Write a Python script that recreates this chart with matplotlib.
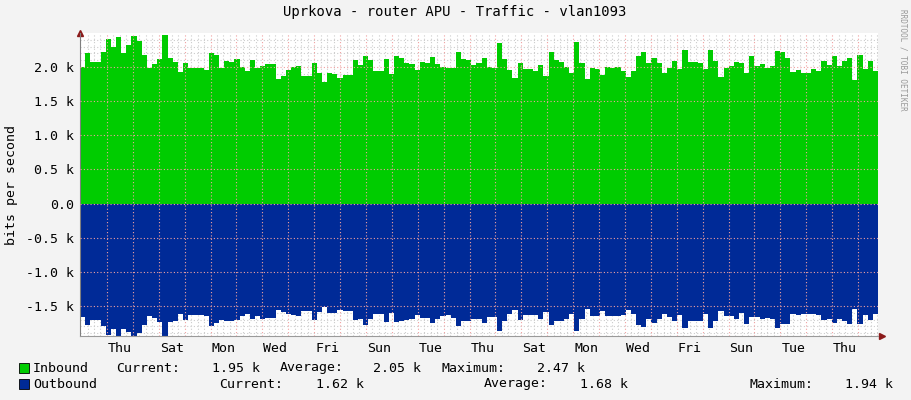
import matplotlib
matplotlib.use("Agg")
import matplotlib.pyplot as plt
import numpy as np

# values in k bits/s, one per step (~4.8 h)
inbound = [2.0, 2.20, 2.08, 2.07, 2.22, 2.41, 2.29, 2.44, 2.21, 2.32,
           2.46, 2.38, 2.18, 1.99, 2.05, 2.12, 2.47, 2.13, 2.08, 1.93,
           2.06, 1.99, 1.99, 1.98, 1.96, 2.21, 2.18, 1.98, 2.09, 2.08,
           2.12, 2.0, 1.95, 2.10, 1.98, 2.01, 2.04, 2.04, 1.82, 1.87,
           1.96, 2.0, 2.01, 1.87, 1.87, 2.06, 1.91, 1.78, 1.91, 1.90,
           1.84, 1.88, 1.88, 2.10, 2.03, 2.16, 2.10, 1.95, 1.95, 2.12,
           1.90, 2.16, 2.13, 2.06, 2.05, 1.96, 2.08, 2.06, 2.15, 2.04,
           2.0, 1.98, 1.99, 2.22, 2.12, 2.10, 2.03,
           2.06, 2.13, 2.0, 1.99, 2.35, 2.12, 1.96, 1.84, 2.06, 1.97,
           1.97, 1.95, 2.03, 1.87, 2.22, 2.10, 2.08, 2.0, 1.91, 2.37,
           2.06, 1.82, 1.99, 1.97, 1.88, 2.0, 1.99, 2.0, 1.95, 1.85,
           1.95, 2.16, 2.22, 2.06, 2.13, 2.06, 1.91, 1.99, 2.09, 1.97,
           2.25, 2.07, 2.07, 2.06, 1.97, 2.25, 2.09, 1.85, 1.99, 2.01,
           2.07, 2.06, 1.91, 2.16, 2.01, 2.04, 1.99, 2.01, 2.24, 2.22,
           2.13, 1.93, 1.96, 1.91, 1.91, 1.97, 1.94, 2.09, 2.03, 2.16,
           2.01, 2.09, 2.13, 1.81, 2.18, 1.97, 2.09, 1.94]
outbound = [1.66, 1.78, 1.70, 1.71, 1.79, 1.93, 1.84, 1.94, 1.84, 1.88,
            1.94, 1.90, 1.78, 1.65, 1.68, 1.74, 1.95, 1.74, 1.72, 1.62,
            1.71, 1.63, 1.63, 1.63, 1.65, 1.79, 1.75, 1.71, 1.72, 1.72,
            1.71, 1.65, 1.62, 1.69, 1.65, 1.69, 1.68, 1.68, 1.56, 1.59,
            1.62, 1.63, 1.65, 1.57, 1.57, 1.71, 1.59, 1.51, 1.60, 1.60,
            1.56, 1.57, 1.57, 1.71, 1.69, 1.78, 1.69, 1.62, 1.62, 1.74,
            1.60, 1.74, 1.72, 1.71, 1.69, 1.63, 1.68, 1.68, 1.75, 1.69,
            1.65, 1.63, 1.68, 1.79, 1.72, 1.72, 1.69,
            1.69, 1.75, 1.66, 1.66, 1.87, 1.72, 1.62, 1.56, 1.71, 1.63,
            1.63, 1.63, 1.69, 1.59, 1.78, 1.72, 1.72, 1.69, 1.62, 1.87,
            1.69, 1.54, 1.65, 1.65, 1.57, 1.65, 1.65, 1.65, 1.63, 1.56,
            1.62, 1.78, 1.81, 1.69, 1.75, 1.69, 1.62, 1.66, 1.72, 1.63,
            1.82, 1.72, 1.72, 1.72, 1.62, 1.82, 1.72, 1.57, 1.65, 1.65,
            1.69, 1.60, 1.76, 1.66, 1.66, 1.69, 1.68, 1.69, 1.82, 1.76,
            1.76, 1.62, 1.63, 1.62, 1.62, 1.62, 1.63, 1.71, 1.69, 1.75,
            1.69, 1.72, 1.76, 1.54, 1.76, 1.63, 1.71, 1.62]
day_labels = ["Thu", "Sat", "Mon", "Wed", "Fri", "Sun", "Tue", "Thu",
              "Sat", "Mon", "Wed", "Fri", "Sun", "Tue", "Thu"]
ytick_vals = [-1.5, -1.0, -0.5, 0.0, 0.5, 1.0, 1.5, 2.0]
ytick_text = ["-1.5 k", "-1.0 k", "-0.5 k", "0.0", "0.5 k", "1.0 k", "1.5 k", "2.0 k"]

W, H = 911, 400
mono = "DejaVu Sans Mono"
fig = plt.figure(figsize=(W / 100, H / 100), dpi=100, facecolor="#f3f3f3")
ax = fig.add_axes([80 / W, (H - 336) / H, (878 - 80) / W, (336 - 33) / H])
ax.set_facecolor("white")

n = len(inbound)
span = 30.81  # days shown
step = span / n
x = -1.04 + np.arange(n + 1) * step
inb = np.append(inbound, inbound[-1])
outb = -np.append(outbound, outbound[-1])
ax.fill_between(x, 0, inb, step="post", color="#00cc00", lw=0, zorder=2)
ax.fill_between(x, 0, outb, step="post", color="#002a97", lw=0, zorder=2)

ax.set_xlim(x[0], x[-1])
ax.set_ylim(-1.94, 2.50)

# grid: grey every 6 h / 0.1 k, red every day / 0.5 k
for d in np.arange(-1.0, 30.0, 0.25):
    if abs(d - round(d)) > 1e-6:
        ax.axvline(d, color="#cccccc", lw=0.8, ls=(0, (1, 2)), zorder=1)
for d in range(0, 30):
    ax.axvline(d, color="#f0a0a0", lw=0.8, ls=(0, (1, 2)), zorder=3)
for v in np.arange(-1.9, 2.5, 0.1):
    if abs(v * 2 - round(v * 2)) > 1e-6:
        ax.axhline(v, color="#cccccc", lw=0.8, ls=(0, (1, 2)), zorder=1)
for v in ytick_vals:
    ax.axhline(v, color="#f0a0a0", lw=0.8, ls=(0, (1, 2)), zorder=3)

ax.set_xticks([k * 2 + 0.5 for k in range(len(day_labels))])
ax.set_xticklabels(day_labels, fontfamily=mono, fontsize=9.5)
ax.set_yticks(ytick_vals)
ax.set_yticklabels(ytick_text, fontfamily=mono, fontsize=9.5)
ax.tick_params(length=0, pad=4)
for s in ["top", "right"]:
    ax.spines[s].set_visible(False)
ax.spines["left"].set_color("#7f7f7f")
ax.spines["bottom"].set_color("#9a9a9a")
ax.plot([0], [1], marker="^", color="#8b1a1a", ms=5, transform=ax.transAxes, clip_on=False)
ax.plot([1.005], [0], marker=">", color="#8b1a1a", ms=5, transform=ax.transAxes, clip_on=False)

fig.text(455 / W, 1 - 12 / H, "Uprkova - router APU - Traffic - vlan1093",
         ha="center", va="center", fontfamily=mono, fontsize=10)
fig.text(12 / W, 1 - 185 / H, "bits per second", rotation=90,
         ha="center", va="center", fontfamily=mono, fontsize=9.5)
fig.text(903 / W, 1 - 60 / H, "RRDTOOL / TOBI OETIKER", rotation=270,
         ha="center", va="center", fontfamily=mono, fontsize=5.5, color="#999999")

rows = [(368, "#00cc00", [(33, "Inbound"), (116, "Current:"), (212, "1.95 k"),
                          (280, "Average:"), (373, "2.05 k"),
                          (441, "Maximum:"), (537, "2.47 k")]),
        (384, "#002a97", [(33, "Outbound"), (219, "Current:"), (316, "1.62 k"),
                          (484, "Average:"), (580, "1.68 k"),
                          (749, "Maximum:"), (845, "1.94 k")])]
for y, col, items in rows:
    fig.patches.append(plt.Rectangle((19 / W, 1 - (y + 5) / H), 10 / W, 10 / H,
                                     facecolor=col, edgecolor="black", lw=0.6,
                                     transform=fig.transFigure))
    for px, t in items:
        fig.text(px / W, 1 - y / H, t, ha="left", va="center",
                 fontfamily=mono, fontsize=9.5)

fig.savefig("out.png", dpi=100, facecolor=fig.get_facecolor())
